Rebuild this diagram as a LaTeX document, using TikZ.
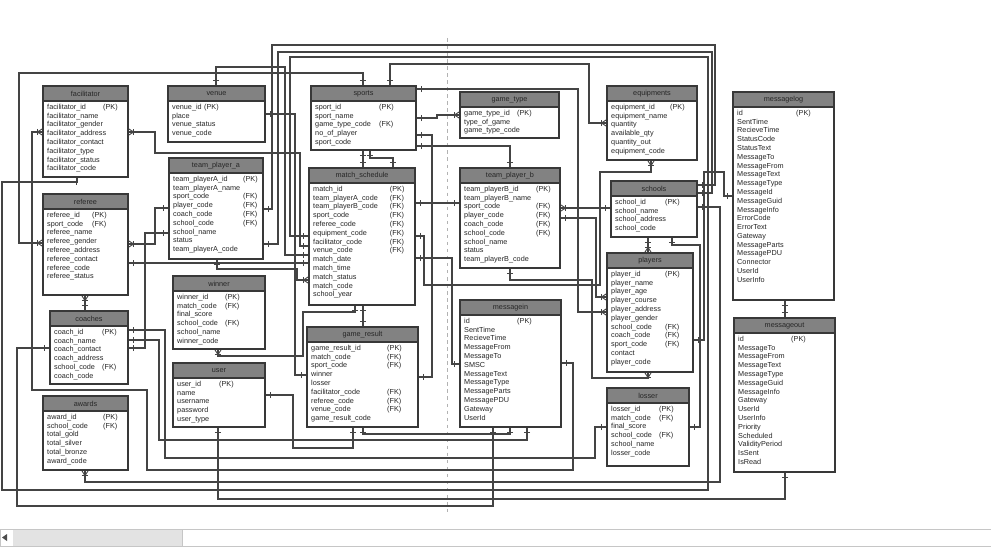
\documentclass[tikz,border=0pt]{standalone}
\usepackage{fontspec}
\setmainfont{Liberation Sans}
\usetikzlibrary{fit,decorations.markings}
\definecolor{relgray}{HTML}{444444}
\definecolor{hdgray}{HTML}{828282}
\definecolor{tblline}{HTML}{383838}
\pgfdeclarelayer{bg}
\pgfsetlayers{bg,main}
\tikzset{
  tblbox/.style={draw=tblline, fill=white, line width=1.1pt, inner sep=0pt},
  hdbox/.style={draw=tblline, fill=hdgray, line width=1.1pt},
  hdtext/.style={font=\fontsize{6.2}{7.5}\selectfont, text=black!85, inner sep=0pt},
  rowtext/.style={font=\fontsize{6.2}{7.5}\selectfont, text=black!85, inner sep=0pt, anchor=north west},
  rel/.style={draw=relgray, line width=1.05pt},
  tk/.style={postaction={decorate, decoration={markings,
      mark=at position 4.5pt with {\draw[relgray,line width=0.8pt] (0,-2.6pt) -- (0,2.6pt);},
      mark=at position -4.5pt with {\draw[relgray,line width=0.8pt] (0,-2.6pt) -- (0,2.6pt);}}}},
  cs/.style={postaction={decorate, decoration={markings,
      mark=at position 0.2pt with {\draw[relgray,line width=0.8pt] (0,2.6pt) -- (4pt,0) -- (0,-2.6pt);}}}},
  ce/.style={postaction={decorate, decoration={markings,
      mark=at position -0.2pt with {\draw[relgray,line width=0.8pt] (0,2.6pt) -- (-4pt,0) -- (0,-2.6pt);}}}},
  pagebreak/.style={draw=gray!60, line width=0.4pt, dashed},
}
% name, x1, y1, x2, y2, title, key column, rows
\newcommand\ertable[8]{%
  \node[tblbox, fit={(#2,#3)(#4,#5)}] (#1) {};
  \draw[hdbox] (#2,#3) rectangle (#4,#3+15);
  \node[hdtext] at ({(#2+#4)/2},#3+7.5) {#6};
  \node[rowtext] at (#2+4,#3+17) {\begin{tabular}{@{}p{#7}@{}l@{}}#8\end{tabular}};
}

\begin{document}
\begin{tikzpicture}[x=0.3mm,y=-0.3mm]
\useasboundingbox (0,0) rectangle (991,546);

%%%%% TABLES %%%%%
\ertable{facilitator}{43}{86}{128}{177}{facilitator}{16.8mm}{facilitator\_id&(PK)\\facilitator\_name\\facilitator\_gender\\facilitator\_address\\facilitator\_contact\\facilitator\_type\\facilitator\_status\\facilitator\_code}
\ertable{venue}{168}{86}{265}{142}{venue}{9.6mm}{venue\_id&(PK)\\place\\venue\_status\\venue\_code}
\ertable{sports}{311}{86}{416}{150}{sports}{19.2mm}{sport\_id&(PK)\\sport\_name\\game\_type\_code&(FK)\\no\_of\_player\\sport\_code}
\ertable{game_type}{460}{92}{559}{138}{game\_type}{15.9mm}{game\_type\_id&(PK)\\type\_of\_game\\game\_type\_code}
\ertable{equipments}{607}{86}{697}{160}{equipments}{17.7mm}{equipment\_id&(PK)\\equipment\_name\\quantity\\available\_qty\\quantity\_out\\equipment\_code}
\ertable{messagelog}{733}{92}{834}{300}{messagelog}{17.7mm}{id&(PK)\\SentTime\\RecieveTime\\StatusCode\\StatusText\\MessageTo\\MessageFrom\\MessageText\\MessageType\\MessageId\\MessageGuid\\MessageInfo\\ErrorCode\\ErrorText\\Gateway\\MessageParts\\MessagePDU\\Connector\\UserId\\UserInfo}
\ertable{team_player_a}{169}{158}{263}{259}{team\_player\_a}{21mm}{team\_playerA\_id&(PK)\\team\_playerA\_name\\sport\_code&(FK)\\player\_code&(FK)\\coach\_code&(FK)\\school\_code&(FK)\\school\_name\\status\\team\_playerA\_code}
\ertable{match_schedule}{309}{168}{415}{305}{match\_schedule}{23mm}{match\_id&(PK)\\team\_playerA\_code&(FK)\\team\_playerB\_code&(FK)\\sport\_code&(FK)\\referee\_code&(FK)\\equipment\_code&(FK)\\facilitator\_code&(FK)\\venue\_code&(FK)\\match\_date\\match\_time\\match\_status\\match\_code\\school\_year}
\ertable{team_player_b}{460}{168}{560}{268}{team\_player\_b}{21.6mm}{team\_playerB\_id&(PK)\\team\_playerB\_name\\sport\_code&(FK)\\player\_code&(FK)\\coach\_code&(FK)\\school\_code&(FK)\\school\_name\\status\\team\_playerB\_code}
\ertable{schools}{611}{181}{697}{237}{schools}{15mm}{school\_id&(PK)\\school\_name\\school\_address\\school\_code}
\ertable{referee}{43}{194}{128}{295}{referee}{13.5mm}{referee\_id&(PK)\\sport\_code&(FK)\\referee\_name\\referee\_gender\\referee\_address\\referee\_contact\\referee\_code\\referee\_status}
\ertable{winner}{173}{276}{265}{349}{winner}{14.4mm}{winner\_id&(PK)\\match\_code&(FK)\\final\_score\\school\_code&(FK)\\school\_name\\winner\_code}
\ertable{players}{607}{253}{693}{372}{players}{16.2mm}{player\_id&(PK)\\player\_name\\player\_age\\player\_course\\player\_address\\player\_gender\\school\_code&(FK)\\coach\_code&(FK)\\sport\_code&(FK)\\contact\\player\_code}
\ertable{coaches}{50}{311}{128}{384}{coaches}{14.4mm}{coach\_id&(PK)\\coach\_name\\coach\_contact\\coach\_address\\school\_code&(FK)\\coach\_code}
\ertable{game_result}{307}{327}{418}{427}{game\_result}{22.8mm}{game\_result\_id&(PK)\\match\_code&(FK)\\sport\_code&(FK)\\winner\\losser\\facilitator\_code&(FK)\\referee\_code&(FK)\\venue\_code&(FK)\\game\_result\_code}
\ertable{messagein}{460}{300}{561}{427}{messagein}{15.9mm}{id&(PK)\\SentTime\\RecieveTime\\MessageFrom\\MessageTo\\SMSC\\MessageText\\MessageType\\MessageParts\\MessagePDU\\Gateway\\UserId}
\ertable{messageout}{734}{318}{835}{472}{messageout}{15.9mm}{id&(PK)\\MessageTo\\MessageFrom\\MessageText\\MessageType\\MessageGuid\\MessageInfo\\Gateway\\UserId\\UserInfo\\Priority\\Scheduled\\ValidityPeriod\\IsSent\\IsRead}
\ertable{user}{173}{363}{265}{427}{user}{12.6mm}{user\_id&(PK)\\name\\username\\password\\user\_type}
\ertable{awards}{43}{396}{128}{470}{awards}{16.8mm}{award\_id&(PK)\\school\_code&(FK)\\total\_gold\\total\_silver\\total\_bronze\\award\_code}
\ertable{losser}{607}{388}{689}{466}{losser}{14.4mm}{losser\_id&(PK)\\match\_code&(FK)\\final\_score\\school\_code&(FK)\\school\_name\\losser\_code}

%%%%% RELATIONS %%%%%
\begin{pgfonlayer}{bg}
\draw[pagebreak] (447,38) -- (447,512);
\draw[rel,tk,cs] (referee.west|-0,243) -- (19,243) -- (19,73) -- (363,73) -- (sports.north-|363,0);
\draw[rel,tk,cs] (facilitator.west|-0,132) -- (32,132) -- (32,390) -- (147,390) -- (147,470) -- (573,470) -- (573,363) -- (messagein.east|-0,363);
\draw[rel,tk] (facilitator.south-|77,0) -- (77,182) -- (2,182) -- (2,490) -- (708,490) -- (708,57) -- (290,57) -- (290,236) -- (match_schedule.west|-0,236);
\draw[rel,tk,cs] (facilitator.east|-0,132) -- (155,132) -- (155,153) -- (300,153) -- (300,246) -- (match_schedule.west|-0,246);
\draw[rel,tk] (venue.north-|216,0) -- (216,67) -- (285,67) -- (285,255) -- (match_schedule.west|-0,255);
\draw[rel,tk,ce] (sports.east|-0,118) -- (437,118) -- (437,115) -- (game_type.west|-0,115);
\draw[rel,tk] (sports.east|-0,135) -- (432,135) -- (432,377) -- (game_result.east|-0,377);
\draw[rel,tk] (sports.east|-0,146) -- (510,146) -- (team_player_b.north-|510,0);
\draw[rel,tk] (sports.south-|363,0) -- (match_schedule.north-|363,0);
\draw[rel,tk] (sports.south-|370,0) -- (370,158) -- (393,158) -- (match_schedule.north-|393,0);
\draw[rel,tk,ce] (sports.north-|390,0) -- (390,64) -- (589,64) -- (589,123) -- (equipments.west|-0,123);
\draw[rel,tk,cs] (equipments.south-|651,0) -- (651,172) -- (600,172) -- (600,285) -- (424,285) -- (424,236) -- (match_schedule.east|-0,236);
\draw[rel,tk] (schools.east|-0,185) -- (715,185) -- (715,45) -- (272,45) -- (272,209) -- (team_player_a.east|-0,209);
\draw[rel,tk] (schools.east|-0,193) -- (712,193) -- (712,52) -- (278,52) -- (278,244) -- (team_player_a.east|-0,244);
\draw[rel,tk,cs] (awards.south-|85,0) -- (85,482) -- (720,482) -- (720,207) -- (schools.east|-0,207);
\draw[rel,tk,cs] (team_player_b.east|-0,208) -- (schools.west|-0,208);
\draw[rel,tk,ce] (team_player_b.east|-0,218) -- (596,218) -- (596,297) -- (players.west|-0,297);
\draw[rel,tk,ce] (schools.south-|648,0) -- (players.north-|648,0);
\draw[rel,tk] (schools.south-|672,0) -- (672,245) -- (700,245) -- (700,427) -- (losser.east|-0,427);
\draw[rel,tk,cs] (referee.east|-0,244) -- (155,244) -- (155,208) -- (team_player_a.west|-0,208);
\draw[rel,tk] (coaches.east|-0,348) -- (145,348) -- (145,233) -- (team_player_a.west|-0,233);
\draw[rel,tk] (referee.east|-0,263) -- (match_schedule.west|-0,263);
\draw[rel,tk,ce] (team_player_a.south-|217,0) -- (217,269) -- (297,269) -- (297,280) -- (match_schedule.west|-0,280);
\draw[rel,tk,cs] (winner.south-|218,0) -- (218,356) -- (303,356) -- (303,312) -- (355,312) -- (match_schedule.south-|355,0);
\draw[rel,tk] (match_schedule.south-|363,0) -- (game_result.north-|363,0);
\draw[rel,tk,cs] (referee.south-|85,0) -- (coaches.north-|85,0);
\draw[rel,tk] (venue.east|-0,114) -- (295,114) -- (295,375) -- (game_result.west|-0,375);
\draw[rel,tk] (match_schedule.east|-0,203) -- (team_player_b.west|-0,203);
\draw[rel,tk] (match_schedule.east|-0,258) -- (452,258) -- (452,364) -- (messagein.west|-0,364);
\draw[rel,tk,ce] (sports.east|-0,89) -- (578,89) -- (578,312) -- (players.west|-0,312);
\draw[rel,tk,cs] (players.south-|648,0) -- (648,378) -- (592,378) -- (592,280) -- (510,280) -- (team_player_b.south-|510,0);
\draw[rel,tk] (coaches.east|-0,330) -- (165,330) -- (165,458) -- (595,458) -- (595,427) -- (losser.west|-0,427);
\draw[rel,tk] (coaches.east|-0,340) -- (159,340) -- (159,440) -- (527,440) -- (messagein.south-|527,0);
\draw[rel,tk] (game_result.south-|363,0) -- (363,434) -- (510,434) -- (messagein.south-|510,0);
\draw[rel,tk] (user.east|-0,395) -- (293,395) -- (293,448) -- (353,448) -- (game_result.south-|353,0);
\draw[rel,tk] (coaches.west|-0,348) -- (17,348) -- (17,506) -- (493,506) -- (messagein.south-|493,0);
\draw[rel,tk] (user.south-|218,0) -- (218,499) -- (785,499) -- (messageout.south-|785,0);
\draw[rel,tk] (messagelog.south-|785,0) -- (messageout.north-|785,0);
\draw[rel,tk] (players.east|-0,340) -- (704,340) -- (704,172) -- (724,172) -- (724,196) -- (messagelog.west|-0,196);
\end{pgfonlayer}

%%%%% SCROLL BAR %%%%%
\draw[draw=gray!45, fill=white] (0,529) rectangle (991,546);
\fill[gray!22] (13,530) rectangle (182,546);
\draw[gray!45] (182,530) -- (182,546);
\fill[black!70] (2,537.5) -- (7,534) -- (7,541) -- cycle;

\end{tikzpicture}
\end{document}
